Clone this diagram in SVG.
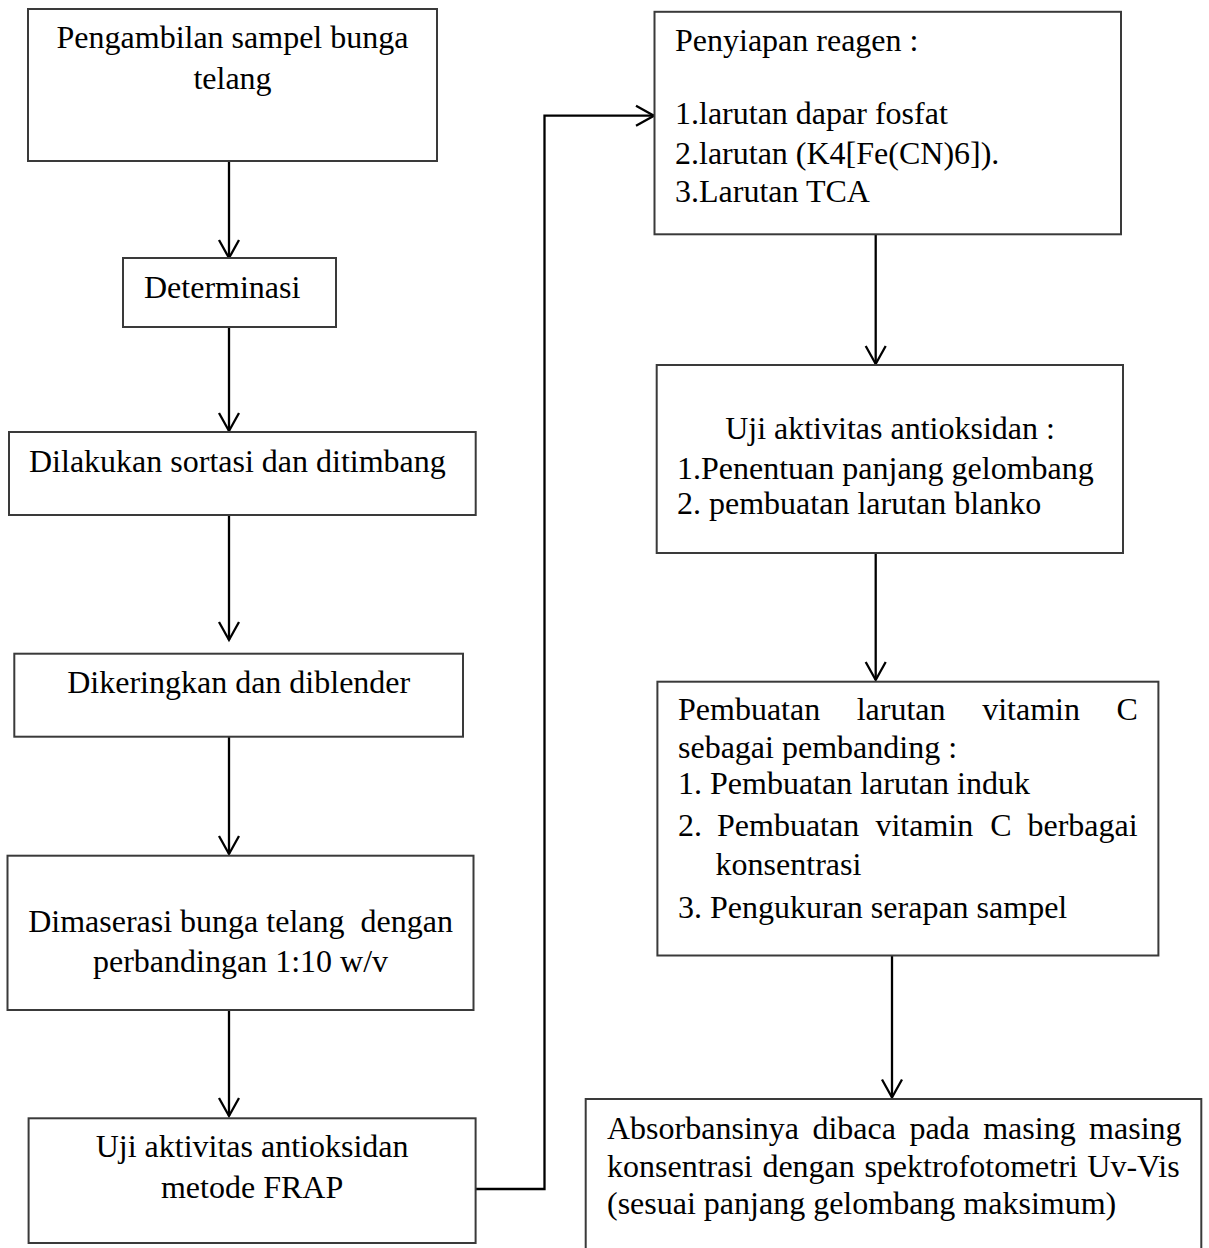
<svg xmlns="http://www.w3.org/2000/svg" width="1209" height="1248" viewBox="0 0 1209 1248">
<style>
.box{fill:#fff;stroke:#3a3a3a;stroke-width:2}
.t{font-family:"Liberation Serif","Times New Roman",serif;font-size:32px;fill:#000}
.c{text-anchor:middle}
.con{fill:none;stroke:#000;stroke-width:2.3}
</style>
<defs>
<marker id="arr" markerUnits="userSpaceOnUse" markerWidth="24" markerHeight="24" viewBox="-2 -2 24 24" refX="18" refY="10" orient="auto" overflow="visible">
<path d="M0,0 L18,10 L0,20" fill="none" stroke="#000" stroke-width="2.3"/>
</marker>
</defs>
<rect width="1209" height="1248" fill="#fff"/>
<g id="connectors">
<line class="con" x1="229" y1="161" x2="229" y2="258" marker-end="url(#arr)"/>
<line class="con" x1="229" y1="327" x2="229" y2="431" marker-end="url(#arr)"/>
<line class="con" x1="229" y1="515" x2="229" y2="640" marker-end="url(#arr)"/>
<line class="con" x1="229" y1="737" x2="229" y2="854" marker-end="url(#arr)"/>
<line class="con" x1="229" y1="1010" x2="229" y2="1116" marker-end="url(#arr)"/>
<path class="con" d="M475.6,1189 H544.5 V115.7 H654" marker-end="url(#arr)"/>
<line class="con" x1="875.7" y1="234" x2="875.7" y2="364" marker-end="url(#arr)"/>
<line class="con" x1="875.7" y1="553" x2="875.7" y2="680" marker-end="url(#arr)"/>
<line class="con" x1="892" y1="955.5" x2="892" y2="1097.5" marker-end="url(#arr)"/>
</g>
<g id="n1">
<rect class="box" x="28" y="9" width="409" height="152"/>
<text class="t c" x="232.5" y="47.7">Pengambilan sampel bunga</text>
<text class="t c" x="232.5" y="89.3">telang</text>
</g>
<g id="n2">
<rect class="box" x="123" y="258" width="213" height="69"/>
<text class="t" x="144" y="298">Determinasi</text>
</g>
<g id="n3">
<rect class="box" x="9" y="432" width="466.7" height="83"/>
<text class="t" x="29" y="471.7">Dilakukan sortasi dan ditimbang</text>
</g>
<g id="n4">
<rect class="box" x="14.3" y="653.7" width="448.7" height="83"/>
<text class="t c" x="238.7" y="693">Dikeringkan dan diblender</text>
</g>
<g id="n5">
<rect class="box" x="7.5" y="855.7" width="466" height="154.3"/>
<text class="t c" x="240.5" y="931.7" style="white-space:pre">Dimaserasi bunga telang  dengan</text>
<text class="t c" x="240.5" y="971.7">perbandingan 1:10 w/v</text>
</g>
<g id="n6">
<rect class="box" x="28.6" y="1118.3" width="447" height="124.7"/>
<text class="t c" x="252.1" y="1156.7">Uji aktivitas antioksidan</text>
<text class="t c" x="252.1" y="1198">metode FRAP</text>
</g>
<g id="n7">
<rect class="box" x="654.5" y="11.8" width="466.5" height="222.5"/>
<text class="t" x="675" y="51">Penyiapan reagen :</text>
<text class="t" x="675" y="123.5">1.larutan dapar fosfat</text>
<text class="t" x="675" y="163.8">2.larutan (K4[Fe(CN)6]).</text>
<text class="t" x="675" y="201.5">3.Larutan TCA</text>
</g>
<g id="n8">
<rect class="box" x="656.7" y="365" width="466.3" height="188"/>
<text class="t c" x="890" y="438.6">Uji aktivitas antioksidan :</text>
<text class="t" x="677" y="478.6">1.Penentuan panjang gelombang</text>
<text class="t" x="677" y="514.3">2. pembuatan larutan blanko</text>
</g>
<g id="n9">
<rect class="box" x="657.4" y="681.7" width="501" height="273.8"/>
<text class="t" y="720"><tspan x="678">Pembuatan</tspan><tspan x="856.7">larutan</tspan><tspan x="982.2">vitamin</tspan><tspan x="1116.4">C</tspan></text>
<text class="t" x="678" y="758.2">sebagai pembanding :</text>
<text class="t" x="678" y="794.2">1. Pembuatan larutan induk</text>
<text class="t" y="836.2"><tspan x="678">2.</tspan><tspan x="717">Pembuatan</tspan><tspan x="875.4">vitamin</tspan><tspan x="990.2">C</tspan><tspan x="1027.5">berbagai</tspan></text>
<text class="t" x="715.6" y="874.8">konsentrasi</text>
<text class="t" x="678" y="918">3. Pengukuran serapan sampel</text>
</g>
<g id="n10">
<rect class="box" x="585.7" y="1099" width="615.6" height="160"/>
<text class="t" y="1139"><tspan x="607">Absorbansinya</tspan><tspan x="812.4">dibaca</tspan><tspan x="909.4">pada</tspan><tspan x="983.2">masing</tspan><tspan x="1089.1">masing</tspan></text>
<text class="t" y="1176.5"><tspan x="607">konsentrasi</tspan><tspan x="762.4">dengan</tspan><tspan x="864.4">spektrofotometri</tspan><tspan x="1087.3">Uv-Vis</tspan></text>
<text class="t" x="607" y="1213.5">(sesuai panjang gelombang maksimum)</text>
</g>
</svg>
